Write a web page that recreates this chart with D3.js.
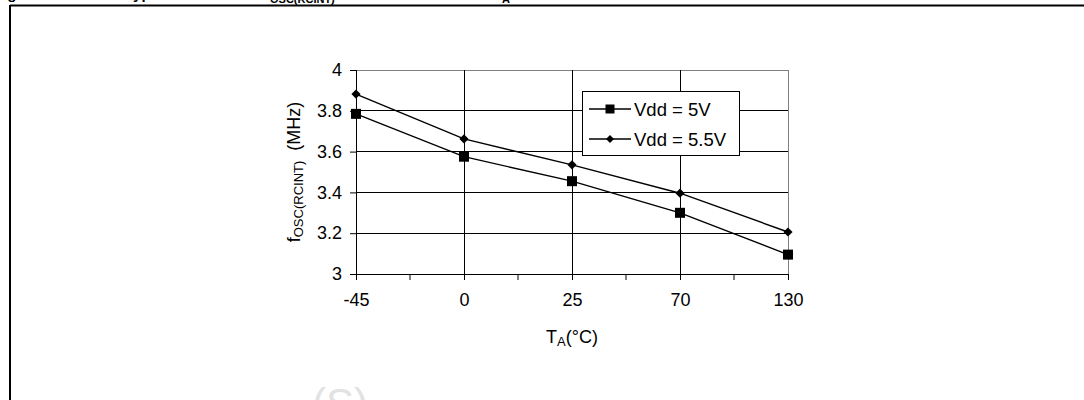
<!DOCTYPE html>
<html lang="en">
<head>
  <meta charset="UTF-8">
  <title>fOSC vs TA</title>
  <script src="https://d3js.org/d3.v7.min.js"></script>
  <style>
    body { margin: 0; background: #fff; }
    text { font-family: "Liberation Sans", Arial, sans-serif; fill: #000; }
  </style>
</head>
<body>
<div class="main"></div>
<script>
  // chart values
  var temps = ["-45", "0", "25", "70", "130"];
  var vdd5 = [3.785, 3.575, 3.455, 3.30, 3.095];
  var vdd55 = [3.882, 3.662, 3.535, 3.396, 3.206];
  var yTicks = [3, 3.2, 3.4, 3.6, 3.8, 4];
  var seriesNames = ["Vdd = 5V", "Vdd = 5.5V"];

  let width = 1084;
  let height = 400;
  let svg = d3.select(".main").append("svg").attr("width", width).attr("height", height).style("display", "block");

  // outer frame (only top and left are in view)
  svg.append("line").attr("x1", 10).attr("y1", 5.5).attr("x2", width).attr("y2", 5.5).style("stroke", "#000").style("stroke-width", 2);
  svg.append("line").attr("x1", 10).attr("y1", 5).attr("x2", 10).attr("y2", height).style("stroke", "#000").style("stroke-width", 2);

  // caption, cut off by the top edge
  let cap = svg.append("text").attr("y", -1).style("font-size", "15px").style("font-weight", "bold");
  cap.append("tspan").attr("x", -6).text("Figure 9.");
  cap.append("tspan").attr("x", 125).text("Typical");
  cap.append("tspan").attr("x", 262).text("f");
  cap.append("tspan").attr("x", 270).attr("dy", 4).style("font-size", "11px").text("OSC(RCINT)");
  cap.append("tspan").attr("x", 420).attr("dy", -4).text("vs. T");
  cap.append("tspan").attr("x", 502).attr("dy", 4).style("font-size", "11px").text("A");

  // faint watermark at the bottom
  svg.append("text").attr("x", 312).attr("y", 418).style("font-size", "42px").style("fill", "#e2e2e2").text("(S)");

  let x = d3.scalePoint().domain(temps).range([356, 788]);
  let y = d3.scaleLinear().domain([3, 4]).range([274, 70]);

  // horizontal gridlines
  svg.append("g").selectAll("line").data(yTicks.slice(1)).join("line")
    .attr("x1", 356).attr("x2", 788).attr("y1", d => y(d)).attr("y2", d => y(d))
    .style("stroke", d => d === 4 ? "#808080" : "#000").style("stroke-width", 1).attr("shape-rendering", "crispEdges");

  // vertical gridlines
  svg.append("g").selectAll("line").data(temps.slice(1)).join("line")
    .attr("x1", d => x(d)).attr("x2", d => x(d)).attr("y1", 70).attr("y2", 274)
    .style("stroke", d => d === "130" ? "#808080" : "#000").style("stroke-width", 1).attr("shape-rendering", "crispEdges");

  // y axis
  let yAxis = d3.axisLeft(y).tickValues(yTicks).tickFormat(d3.format("")).tickSize(6).tickPadding(8);
  let gy = svg.append("g").attr("transform", "translate(356,0)").call(yAxis);
  gy.selectAll("text").style("font-size", "18px");
  gy.select(".domain").attr("d", "M0.5,274V70");

  // x axis: ticks at categories and half way between them
  let step = x.step();
  let halfTicks = [];
  for (let idx = 0; idx < temps.length - 1; idx++) halfTicks.push(x(temps[idx]) + step / 2);
  let xAxis = d3.axisBottom(x).tickSize(6).tickPadding(13);
  let gx = svg.append("g").attr("transform", "translate(0,274)").call(xAxis);
  gx.selectAll("text").style("font-size", "18px");
  gx.select(".domain").attr("d", "M356,0.5H788");
  gx.append("g").selectAll("line").data(halfTicks).join("line")
    .attr("x1", d => d).attr("x2", d => d).attr("y1", 0).attr("y2", 6).style("stroke", "#000");

  // axis titles
  let yt = svg.append("text").attr("transform", "translate(300,172) rotate(-90)").attr("text-anchor", "middle").style("font-size", "18px");
  yt.append("tspan").text("f");
  yt.append("tspan").attr("dy", 3).style("font-size", "13px").text("OSC(RCINT)");
  yt.append("tspan").attr("dy", -3).text("  (MHz)").style("white-space", "pre");

  let xt = svg.append("text").attr("x", 572).attr("y", 343).attr("text-anchor", "middle").style("font-size", "18px");
  xt.append("tspan").text("T");
  xt.append("tspan").attr("dy", 3).style("font-size", "13px").text("A");
  xt.append("tspan").attr("dy", -3).text("(°C)");

  // series
  let line = d3.line().x((d, i) => x(temps[i])).y(d => y(d));
  svg.append("path").datum(vdd5).attr("d", line).style("fill", "none").style("stroke", "#000").style("stroke-width", 1.4);
  svg.append("path").datum(vdd55).attr("d", line).style("fill", "none").style("stroke", "#000").style("stroke-width", 1.4);

  // square rotated by 45 degrees, r = half diagonal
  function diamondOf(r) {
    return {draw: function(ctx) { ctx.moveTo(0, -r); ctx.lineTo(r, 0); ctx.lineTo(0, r); ctx.lineTo(-r, 0); ctx.closePath(); }};
  }
  let square = d3.symbol().type(d3.symbolSquare).size(100);
  let diamond = d3.symbol().type(diamondOf(4.6));

  svg.append("g").selectAll("path").data(vdd5).join("path")
    .attr("d", square).attr("transform", (d, i) => "translate(" + x(temps[i]) + "," + y(d) + ")").style("fill", "#000");
  svg.append("g").selectAll("path").data(vdd55).join("path")
    .attr("d", diamond).attr("transform", (d, i) => "translate(" + x(temps[i]) + "," + y(d) + ")").style("fill", "#000");

  // legend
  let lg = svg.append("g");
  lg.append("rect").attr("x", 582.5).attr("y", 91.5).attr("width", 157).attr("height", 64).style("fill", "#fff").style("stroke", "#000").style("stroke-width", 1);
  let rows = [{name: seriesNames[0], sym: d3.symbol().type(d3.symbolSquare).size(81), yy: 109},
              {name: seriesNames[1], sym: d3.symbol().type(diamondOf(4)), yy: 139}];
  rows.forEach(function(r) {
    lg.append("line").attr("x1", 589).attr("x2", 631).attr("y1", r.yy).attr("y2", r.yy).style("stroke", "#000").style("stroke-width", 1.4);
    lg.append("path").attr("d", r.sym).attr("transform", "translate(610," + r.yy + ")").style("fill", "#000");
    lg.append("text").attr("x", 634).attr("y", r.yy + 6.5).style("font-size", "18.5px").text(r.name);
  });
</script>
</body>
</html>
